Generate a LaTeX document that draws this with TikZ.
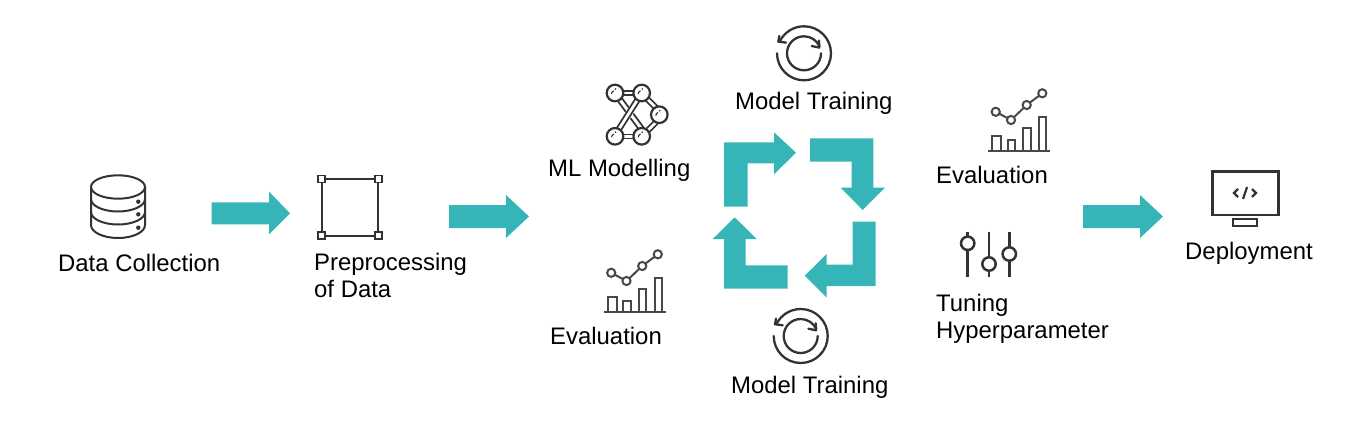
\documentclass[tikz,border=0pt]{standalone}
\usepackage{fontspec}
\setmainfont{Liberation Sans}
\definecolor{teal1}{HTML}{35B5B8}
\definecolor{icon}{HTML}{333333}
\definecolor{chartgrey}{HTML}{484848}
\tikzset{
 lab/.style={inner sep=0pt,font=\fontsize{23.9}{27}\selectfont,align=left,anchor=base west,text=black},
 block/.style={fill=teal1,draw=none},
 ic/.style={draw=icon,line width=2pt,fill=none},
 cycle icon/.pic={
  \draw[ic,line width=2.3pt,line cap=round] (180:27) arc (180:-154:27);
  \draw[ic,line width=2.3pt,line join=round,line cap=round] (-24.7,-17.3) -- (-25.7,-11.7) -- (-18,-10.7);
  \draw[ic,line width=2.3pt,line cap=round] (0:17) arc (0:336:17);
  \draw[ic,line width=2.3pt,line join=round,line cap=round] (7.7,-7.3) -- (15.3,-5.7) -- (15,-12.7);
 },
 chart icon/.pic={
  \draw[ic,draw=chartgrey] (-31,0) -- (31,0);
  \draw[ic,draw=chartgrey] (-27,0) |- (-18,-15) -- (-18,0);
  \draw[ic,draw=chartgrey] (-11.3,0) |- (-4,-10.7) -- (-4,0);
  \draw[ic,draw=chartgrey] (4,0) |- (11.7,-23) -- (11.7,0);
  \draw[ic,draw=chartgrey] (20,0) |- (27,-34) -- (27,0);
  \draw[ic,draw=chartgrey] (-22.3,-38.4) -- (-8,-30.7) -- (7.7,-45.7) -- (23.3,-57.4);
  \foreach \p in {(-23.3,-38.9),(-8,-30.7),(7.7,-45.7),(23.3,-57.4)} \draw[ic,draw=chartgrey,fill=white] \p circle (4.1);
 }
}
\begin{document}
\begin{tikzpicture}[x=1pt,y=-1pt]
\useasboundingbox (0,0) rectangle (1351,431);
% block arrows
\fill[block] (211.7,202.3) -- (269,202.3) -- (269,191.7) -- (290,213.3) -- (269,234.3) -- (269,224.3) -- (211.7,224.3) -- cycle;
\fill[block] (449,205) -- (506,205) -- (506,195) -- (529,216.5) -- (506,238) -- (506,228) -- (449,228) -- cycle;
\fill[block] (1083,205) -- (1140,205) -- (1140,195) -- (1163,216.5) -- (1140,238) -- (1140,228) -- (1083,228) -- cycle;
\fill[block] (724,206.7) -- (747.7,206.7) -- (747.7,163.3) -- (774,163.3) -- (774,174.3) -- (796,152.7) -- (774,132.3) -- (774,142.3) -- (724,142.3) -- cycle;
\fill[block] (810,138.3) -- (873.3,138.3) -- (873.3,187.7) -- (885,187.7) -- (862.7,210) -- (840.7,187.7) -- (851.7,187.7) -- (851.7,161.7) -- (810,161.7) -- cycle;
\fill[block] (852.7,221.7) -- (875.7,221.7) -- (875.7,286) -- (826.7,286) -- (826.7,297.7) -- (804.7,275.7) -- (826.7,254) -- (826.7,264.7) -- (852.7,264.7) -- cycle;
\fill[block] (787.7,265.3) -- (787.7,288.7) -- (724,288.7) -- (724,239) -- (712.7,239) -- (734.7,217.3) -- (756.7,239) -- (745.7,239) -- (745.7,265.3) -- cycle;
% database
\draw[ic] (118,187) ellipse (27 and 11.7);
\draw[ic] (91,187) -- (91,225) arc (180:0:27 and 13) -- (145,187);
\draw[ic] (91,199) arc (180:0:27 and 12.5) (91,212) arc (180:0:27 and 12.5);
\foreach \y in {201.7,214.3,227.7} \fill[icon] (138.3,\y) circle (2.2);
% square
\draw[ic,line width=2.3pt] (321.7,179) rectangle (378.3,235.7);
\foreach \x/\y in {321.7/179,378.3/179,321.7/235.7,378.3/235.7} \draw[ic,fill=white,line width=1.8pt] (\x-3.5,\y-3.5) rectangle (\x+3.5,\y+3.5);
% network
\draw[ic,line width=1.7pt] (622,91.2) -- (634,91.2) (622,95.2) -- (634,95.2) (622,134.4) -- (634,134.4) (622,138.4) -- (634,138.4);
\draw[ic,line width=1.7pt] (645,100) -- (654,109) (648.5,97) -- (657.5,106) (645,130) -- (654,121) (648.5,133) -- (657.5,124);
\draw[ic,line width=1.7pt] (617,100) -- (640,131) (621,97) -- (644,128);
\draw[white,line width=7pt] (639,98) -- (618,131);
\draw[ic,line width=1.7pt] (636.5,97) -- (615.5,130) (640.5,99.5) -- (619.5,132.5);
\foreach \x/\y in {615/93,641.7/93,659.3/114.7,615/136.3,641.7/136.3} {
 \draw[ic,fill=white,line width=2.2pt] (\x,\y) circle (8.3);
 \draw[icon,line width=1.1pt] (\x-3.5,\y+1) arc (180:250:3.5);
 \fill[icon] (\x+0.5,\y-4) circle (0.9);
}
% cycles
\pic at (804,53.3) {cycle icon};
\pic at (800.7,336) {cycle icon};
% charts
\pic at (1019,150.7) {chart icon};
\pic at (634.5,311.7) {chart icon};
% sliders
\draw[ic,line width=2.5pt] (967.7,231.7) -- (967.7,236.6) (967.7,250) -- (967.7,276.7) (989,231.7) -- (989,257.3) (989,270.7) -- (989,276.7) (1009.3,231.7) -- (1009.3,247.3) (1009.3,260.7) -- (1009.3,276.7);
\foreach \x/\y in {967.7/243.3,989/264,1009.3/254} \draw[ic,line width=2.5pt] (\x,\y) circle (6.7);
% monitor
\draw[ic,line width=2.5pt] (1212.3,171.7) rectangle (1278.5,215);
\draw[ic,line width=2.2pt] (1232.7,219) rectangle (1256.7,225.7);
\draw[ic,line width=2.2pt] (1238,189) -- (1234,193) -- (1238,197) (1252,189) -- (1256,193) -- (1252,197) (1247,187) -- (1243,199);
% labels
\node[lab] (datacollection) at (58,271) {Data Collection};
\node[lab] (preproc) at (314,297) {Preprocessing\\of Data};
\node[lab] (mlmodel) at (548,176) {ML Modelling};
\node[lab] (evalleft) at (550,344) {Evaluation};
\node[lab] (traintop) at (735,109) {Model Training};
\node[lab] (trainbottom) at (731,393) {Model Training};
\node[lab] (evalright) at (936,183) {Evaluation};
\node[lab] (tuning) at (936,338) {Tuning\\Hyperparameter};
\node[lab] (deploy) at (1185,259) {Deployment};
\end{tikzpicture}
\end{document}
